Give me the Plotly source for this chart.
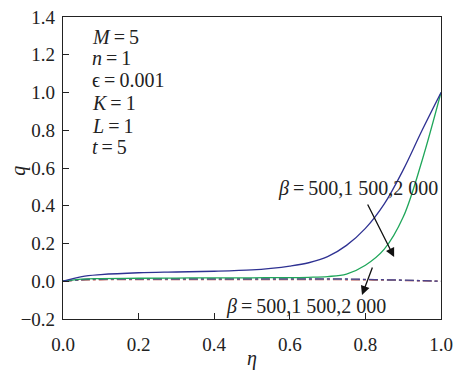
import plotly.graph_objects as go

eta = [0, 0.05, 0.1, 0.2, 0.3, 0.4, 0.5, 0.55, 0.6, 0.65, 0.7, 0.75, 0.8, 0.85, 0.9, 0.95, 1.0]
q_solid_500 = [0, 0.025, 0.035, 0.045, 0.049, 0.053, 0.06, 0.068, 0.08, 0.098, 0.13, 0.19, 0.28, 0.41, 0.59, 0.80, 1.0]
q_solid_1500 = [0, 0.011, 0.014, 0.016, 0.017, 0.018, 0.018, 0.019, 0.019, 0.021, 0.025, 0.038, 0.085, 0.17, 0.34, 0.64, 1.0]
q_dd_500 = [0, 0.006, 0.008, 0.009, 0.009, 0.009, 0.009, 0.009, 0.009, 0.009, 0.009, 0.008, 0.007, 0.006, 0.004, 0.002, 0.0]
q_dd_1500 = [0, 0.008, 0.010, 0.011, 0.011, 0.011, 0.011, 0.011, 0.011, 0.011, 0.011, 0.010, 0.009, 0.007, 0.005, 0.003, 0.0]
q_dd_2000 = [0, 0.009, 0.012, 0.013, 0.013, 0.013, 0.013, 0.013, 0.013, 0.013, 0.013, 0.012, 0.010, 0.008, 0.006, 0.003, 0.0]

S = "\u2009"
params = ["<i>M</i>" + S + "=" + S + "5", "<i>n</i>" + S + "=" + S + "1", "ϵ" + S + "=" + S + "0.001",
          "<i>K</i>" + S + "=" + S + "1", "<i>L</i>" + S + "=" + S + "1", "<i>t</i>" + S + "=" + S + "5"]
param_y = [1.294, 1.183, 1.066, 0.944, 0.823, 0.711]
beta_label = "<i>β</i>" + S + "=" + S + "500,1 500,2 000"

FONT = "Liberation Serif"
TXT = "#222"

fig = go.Figure()
fig.add_trace(go.Scatter(x=eta, y=q_dd_500, mode="lines", line=dict(color="#c0504d", width=1.3, dash="dashdot", shape="spline")))
fig.add_trace(go.Scatter(x=eta, y=q_dd_1500, mode="lines", line=dict(color="#8c8c8c", width=1.3, dash="dashdot", shape="spline")))
fig.add_trace(go.Scatter(x=eta, y=q_dd_2000, mode="lines", line=dict(color="#4b3f8a", width=1.3, dash="dashdot", shape="spline")))
fig.add_trace(go.Scatter(x=eta, y=q_solid_1500, mode="lines", line=dict(color="#1fa65a", width=1.3, shape="spline")))
fig.add_trace(go.Scatter(x=eta, y=q_solid_500, mode="lines", line=dict(color="#2e3192", width=1.3, shape="spline")))

for t, y in zip(params, param_y):
    fig.add_annotation(x=0.071, y=y, text=t, showarrow=False, xanchor="left", yanchor="middle",
                       font=dict(family=FONT, size=20, color=TXT))

fig.add_annotation(x=0.78, y=0.494, text=beta_label, showarrow=False, font=dict(family=FONT, size=20, color=TXT))
fig.add_annotation(x=0.643, y=-0.136, text=beta_label, showarrow=False, font=dict(family=FONT, size=20, color=TXT))

fig.add_annotation(x=0.876, y=0.128, ax=0.804, ay=0.415, axref="x", ayref="y", xref="x", yref="y",
                   text="", showarrow=True, arrowhead=2, arrowsize=1.4, arrowwidth=1.3, arrowcolor="#111")
fig.add_annotation(x=0.791, y=-0.073, ax=0.820, ay=0.081, axref="x", ayref="y", xref="x", yref="y",
                   text="", showarrow=True, arrowhead=2, arrowsize=1.4, arrowwidth=1.3, arrowcolor="#111")

# axis titles
fig.add_annotation(xref="paper", yref="paper", x=0.5, y=-0.13, text="<i>η</i>", showarrow=False,
                   yanchor="middle", font=dict(family=FONT, size=20, color=TXT))
fig.add_annotation(xref="paper", yref="paper", x=-0.12, y=0.49, text="<i>q</i>", showarrow=False,
                   textangle=-90, xanchor="center", yanchor="middle", font=dict(family=FONT, size=20, color=TXT))

axis_common = dict(showgrid=False, zeroline=False, showline=True, linecolor="#222", linewidth=1.2,
                   mirror=True, ticks="inside", ticklen=6, tickcolor="#222", automargin=False,
                   ticklabeloverflow="allow",
                   tickfont=dict(family=FONT, size=19, color=TXT), tickformat=".1f", dtick=0.2)

fig.update_xaxes(range=[0, 1], tick0=0, ticklabelstandoff=8, **axis_common)
fig.update_yaxes(range=[-0.2, 1.4], tick0=-0.2, ticklabelstandoff=3, **axis_common)

# the page shows the figure 8 px in from its top-left corner; margins compensate for that
fig.update_layout(width=475, height=386, margin=dict(l=55, r=42, t=9, b=75), showlegend=False,
                  plot_bgcolor="white", paper_bgcolor="white")

fig.write_html("out.html")
